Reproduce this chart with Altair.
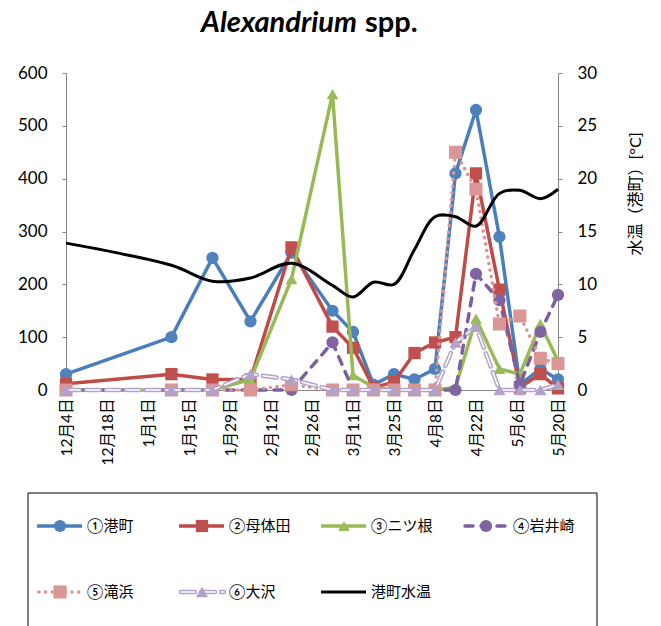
import json
import altair as alt
import pandas as pd

# ---------------- data ----------------
sample_dates = ["2011-12-04", "2012-01-09", "2012-01-23", "2012-02-05", "2012-02-19",
                "2012-03-04", "2012-03-11", "2012-03-18", "2012-03-25", "2012-04-01",
                "2012-04-08", "2012-04-15", "2012-04-22", "2012-04-30", "2012-05-07",
                "2012-05-14", "2012-05-20"]

site_names = ["①港町", "②母体田", "③ニツ根", "④岩井崎", "⑤滝浜", "⑥大沢"]
temp_name = "港町水温"

minato = [30, 100, 250, 130, 260, 150, 110, 10, 30, 20, 40, 410, 530, 290, 10, 40, 20]
motaida = [12, 30, 20, 20, 270, 120, 80, 5, 15, 70, 90, 100, 410, 190, 5, 30, 3]
futatsune = [0, 0, 0, 20, 210, 560, 28, 5, 0, 0, 0, 5, 135, 40, 30, 125, 55]
iwaisaki = [0, 0, 0, 0, 0, 90, 0, 0, 0, 0, 0, 0, 220, 170, 10, 110, 180]
takihama = [0, 0, 0, 0, 10, 0, 0, 0, 0, 0, 0, 450, 380, 125, 140, 60, 50]
osawa = [0, 0, 0, 30, 20, 0, 0, 0, 0, 0, 0, 90, 120, 0, 0, 0, 10]
water_temp = [13.9, 11.8, 10.3, 10.6, 12.0, 9.9, 8.8, 10.2, 10.0, 13.3, 16.4, 16.4,
              15.5, 18.6, 18.9, 18.1, 19.0]

tick_labels = ["12月4日", "12月18日", "1月1日", "1月15日", "1月29日", "2月12日", "2月26日",
               "3月11日", "3月25日", "4月8日", "4月22日", "5月6日", "5月20日"]
left_ticks = [0, 100, 200, 300, 400, 500, 600]
right_ticks = [0, 5, 10, 15, 20, 25, 30]
title_main = "Alexandrium"
title_rest = "spp."
right_title = "水温（港町）[°C]"

# ---------------- layout / style ----------------
W, H = 492, 317
FONT = "Lato, 'Noto Sans CJK JP', sans-serif"
AXIS_GRAY = "#868686"

start = pd.Timestamp(sample_dates[0])
day = [(pd.Timestamp(d) - start).days for d in sample_dates]
span = 14 * (len(tick_labels) - 1)

series_values = [minato, motaida, futatsune, iwaisaki, takihama, osawa]
styles = [
    dict(line="#4A7EBB", fill="#4F81BD", shape="circle", size=150, dash=None, cap="butt"),
    dict(line="#BE4B48", fill="#C0504D", shape="square", size=150, dash=None, cap="butt"),
    dict(line="#98B954", fill="#9BBB59", shape="triangle-up", size=140, dash=None, cap="butt"),
    dict(line="#7D5FA0", fill="#8064A2", shape="circle", size=150, dash=[8, 8], cap="round"),
    dict(line="#D99694", fill="#D99694", shape="square", size=170, dash=[0.1, 6.5], cap="round"),
    dict(line="#B3A2C7", fill="#B3A2C7", shape="triangle-up", size=150, dash=[14, 6], cap="round"),
]

label_expr = json.dumps(tick_labels, ensure_ascii=False) + "[round(datum.value / 14)]"

x_enc = alt.X("day:Q",
              scale=alt.Scale(domain=[0, span], nice=False, zero=False),
              axis=alt.Axis(values=[14 * i for i in range(len(tick_labels))],
                            labelExpr=label_expr, labelAngle=270, labelAlign="right",
                            labelBaseline="middle", labelFont=FONT, labelFontSize=15.5,
                            labelColor="black", labelPadding=8, labelFlush=False,
                            labelOverlap=False, labelBound=False, ticks=False,
                            domainColor=AXIS_GRAY, domainWidth=1, grid=False, title=None))
y_enc = alt.Y("value:Q",
              scale=alt.Scale(domain=[0, 600], nice=False, zero=True),
              axis=alt.Axis(values=left_ticks, labelFont=FONT, labelFontSize=17,
                            labelColor="black", labelPadding=15, tickSize=4,
                            tickColor=AXIS_GRAY, domainColor=AXIS_GRAY, grid=False,
                            title=None))

site_layers = []
for name, vals, st in zip(site_names, series_values, styles):
    df = pd.DataFrame({"day": day, "value": vals, "site": name})
    base = alt.Chart(df).encode(x=x_enc, y=y_enc)
    if name == site_names[5]:
        outer = base.mark_line(color=st["line"], strokeWidth=4.5, strokeDash=st["dash"],
                               strokeCap=st["cap"])
        inner = base.mark_line(color="white", strokeWidth=1.6, strokeDash=st["dash"],
                               strokeCap=st["cap"])
        site_layers += [outer, inner]
    else:
        kw = dict(color=st["line"], strokeWidth=3.5, strokeCap=st["cap"])
        if st["dash"]:
            kw["strokeDash"] = st["dash"]
        site_layers.append(base.mark_line(**kw))
    site_layers.append(base.mark_point(shape=st["shape"], size=st["size"], filled=True,
                                       color=st["fill"], opacity=1))

sites = alt.layer(*site_layers)

temp_df = pd.DataFrame({"day": day, "temp": water_temp})
temp_layer = alt.Chart(temp_df).mark_line(
    color="black", strokeWidth=3, interpolate="catmull-rom"
).encode(
    x=x_enc,
    y=alt.Y("temp:Q", scale=alt.Scale(domain=[0, 30], nice=False),
            axis=alt.Axis(orient="right", values=right_ticks, labelFont=FONT,
                          labelFontSize=17, labelColor="black", labelPadding=15,
                          tickSize=4, tickColor=AXIS_GRAY, domainColor=AXIS_GRAY,
                          grid=False, title=None)),
)

one = pd.DataFrame({"k": [0]})

# ---------------- titles ----------------
title_a = alt.Chart(pd.DataFrame({"t": [title_main]})).mark_text(
    font="Lato", fontSize=29, fontWeight="bold", fontStyle="italic",
    align="right", baseline="alphabetic", color="black"
).encode(text="t:N", x=alt.value(291), y=alt.value(-41))
title_b = alt.Chart(pd.DataFrame({"t": [title_rest]})).mark_text(
    font="Lato", fontSize=29, fontWeight="bold",
    align="left", baseline="alphabetic", color="black"
).encode(text="t:N", x=alt.value(299), y=alt.value(-41))
right_t = alt.Chart(pd.DataFrame({"t": [right_title]})).mark_text(
    font=FONT, fontSize=16, angle=270, align="center", baseline="middle", color="black"
).encode(text="t:N", x=alt.value(570), y=alt.value(121))

# ---------------- legend ----------------
legend_layers = []
box = alt.Chart(one).mark_rect(fillOpacity=0, stroke="black", strokeWidth=1).encode(
    x=alt.value(-38), x2=alt.value(531), y=alt.value(420), y2=alt.value(600))
legend_layers.append(box)

entries = list(zip(site_names, styles)) + [(temp_name, None)]
for i, (name, st) in enumerate(entries):
    col, row = i % 4, i // 4
    x0 = -29 + col * 142
    yy = 453 + row * 66
    seg = alt.Chart(one)
    if st is None:
        legend_layers.append(seg.mark_rule(color="black", strokeWidth=3).encode(
            x=alt.value(x0), x2=alt.value(x0 + 45), y=alt.value(yy)))
    elif name == site_names[5]:
        legend_layers.append(seg.mark_rule(color=st["line"], strokeWidth=4.5,
                                           strokeDash=[14, 6], strokeCap="round").encode(
            x=alt.value(x0 + 2), x2=alt.value(x0 + 45), y=alt.value(yy)))
        legend_layers.append(seg.mark_rule(color="white", strokeWidth=1.6,
                                           strokeDash=[14, 6], strokeCap="round").encode(
            x=alt.value(x0 + 2), x2=alt.value(x0 + 45), y=alt.value(yy)))
    else:
        kw = dict(color=st["line"], strokeWidth=3.5, strokeCap=st["cap"])
        if st["dash"]:
            kw["strokeDash"] = st["dash"]
        legend_layers.append(seg.mark_rule(**kw).encode(
            x=alt.value(x0 + (2 if st["dash"] else 0)), x2=alt.value(x0 + 45), y=alt.value(yy)))
    if st is not None:
        legend_layers.append(seg.mark_point(shape=st["shape"], size=st["size"], filled=True,
                                            color=st["fill"], opacity=1).encode(
            x=alt.value(x0 + 23), y=alt.value(yy)))
    legend_layers.append(alt.Chart(pd.DataFrame({"t": [name]})).mark_text(
        font=FONT, fontSize=15, align="left", baseline="middle", color="black"
    ).encode(text="t:N", x=alt.value(x0 + 50), y=alt.value(yy)))

chart = alt.layer(sites, temp_layer, title_a, title_b, right_t, *legend_layers).resolve_scale(
    y="independent"
).properties(
    width=W, height=H,
    autosize=alt.AutoSizeParams(type="none"),
    padding={"left": 58, "top": 65, "right": 95, "bottom": 236},
).configure_view(stroke=None)

chart.save("out.html", embed_options={"renderer": "svg", "actions": False})
